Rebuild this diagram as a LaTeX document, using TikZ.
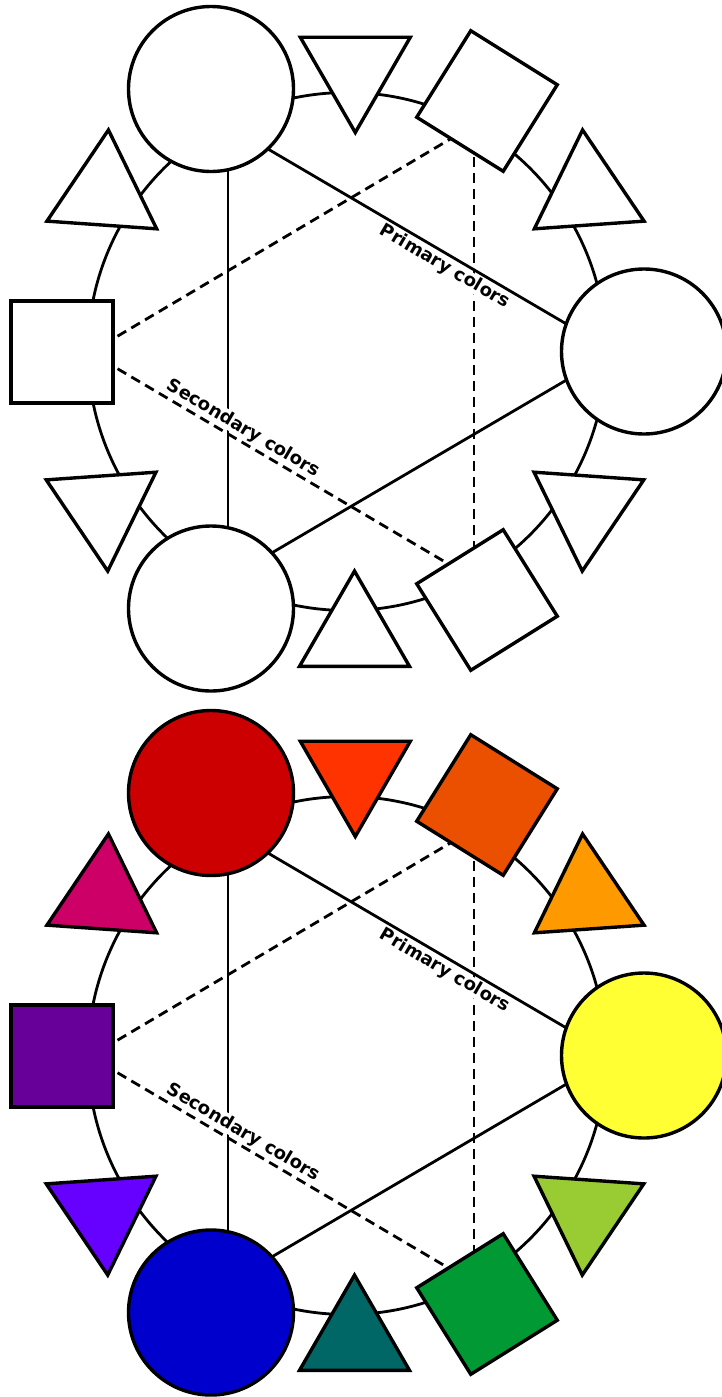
\documentclass[tikz,border=0pt]{standalone}
\usepackage{fontspec}
\setmainfont{DejaVu Sans}
\usetikzlibrary{shapes.geometric}
% white set
\colorlet{wcircA}{white}\colorlet{wtriTop}{white}\colorlet{wsqTR}{white}
\colorlet{wtriUR}{white}\colorlet{wcircB}{white}\colorlet{wtriLR}{white}
\colorlet{wsqBR}{white}\colorlet{wtriBot}{white}\colorlet{wcircC}{white}
\colorlet{wtriLL}{white}\colorlet{wsqL}{white}\colorlet{wtriUL}{white}
% colour set
\definecolor{ccircA}{HTML}{CC0000}
\definecolor{ctriTop}{HTML}{FF3300}
\definecolor{csqTR}{HTML}{EA5000}
\definecolor{ctriUR}{HTML}{FF9900}
\definecolor{ccircB}{HTML}{FFFF33}
\definecolor{ctriLR}{HTML}{99CC33}
\definecolor{csqBR}{HTML}{009933}
\definecolor{ctriBot}{HTML}{006666}
\definecolor{ccircC}{HTML}{0000CC}
\definecolor{ctriLL}{HTML}{6600FF}
\definecolor{csqL}{HTML}{660099}
\definecolor{ctriUL}{HTML}{CC0066}
\tikzset{
 shp/.style={draw=black, line width=3.4pt, inner sep=0pt, outer sep=0pt},
 bigc/.style={shp, circle, minimum size=165pt},
 sqbox/.style={shp, rectangle, minimum size=102pt},
 tri/.style={shp, regular polygon, regular polygon sides=3, minimum size=127pt},
 ringline/.style={line width=2.8pt},
 primline/.style={line width=2.8pt},
 secline/.style={line width=2.8pt, dash pattern=on 10pt off 6pt},
 lbl/.style={font=\bfseries\fontsize{18}{20}\selectfont, fill=white, inner sep=0.5pt, sloped}
}
\newcommand\colorwheel[3]{%
 \begin{scope}[shift={(0,#2)}]
  \coordinate (#1o) at (347,351.5);
  \draw[ringline] (#1o) circle[radius=259];
  \coordinate (#1p1) at (228,125.6);
  \coordinate (#1p2) at (614.2,352);
  \coordinate (#1p3) at (228,578.6);
  \coordinate (#1q1) at (90,352.5);
  \coordinate (#1q2) at (474,125);
  \coordinate (#1q3) at (474,579);
  \draw[primline] (#1p1) -- (#1p3);
  \draw[secline] (#1q2) -- (#1q3);
  \draw[primline] (#1p1) -- node[lbl, below=1.6pt, pos=0.577] (#1lp) {Primary colors} (#1p2);
  \draw[primline] (#1p3) -- (#1p2);
  \draw[secline] (#1q1) -- (#1q2);
  \draw[secline] (#1q1) -- node[lbl, above=1.6pt, pos=0.383] (#1ls) {Secondary colors} (#1q3);
  \node[bigc, fill=#3circA] (#1A) at (211,89) {};
  \node[tri, fill=#3triTop, rotate=180] (#1tT) at (355.3,69) {};
  \node[sqbox, fill=#3sqTR, rotate=-32] (#1sTR) at (487,101) {};
  \node[tri, fill=#3triUR, rotate=4] (#1tUR) at (587,193.3) {};
  \node[bigc, fill=#3circB] (#1B) at (644,351.5) {};
  \node[tri, fill=#3triLR, rotate=176] (#1tLR) at (586.7,507.7) {};
  \node[sqbox, fill=#3sqBR, rotate=32] (#1sBR) at (487,600) {};
  \node[tri, fill=#3triBot] (#1tB) at (354.5,634.6) {};
  \node[bigc, fill=#3circC] (#1C) at (211,608.5) {};
  \node[tri, fill=#3triLL, rotate=184] (#1tLL) at (103.3,507.7) {};
  \node[sqbox, fill=#3sqL] (#1sL) at (62,352) {};
  \node[tri, fill=#3triUL, rotate=-4] (#1tUL) at (104,193.3) {};
 \end{scope}}
\begin{document}
\begin{tikzpicture}[x=1pt,y=-1pt]
 \useasboundingbox (0,0) rectangle (722,1397);
 \fill[white] (0,0) rectangle (722,1397);
 \clip (0,0) rectangle (722,1397);
 \colorwheel{u}{0}{w}
 \colorwheel{d}{704}{c}
\end{tikzpicture}
\end{document}
